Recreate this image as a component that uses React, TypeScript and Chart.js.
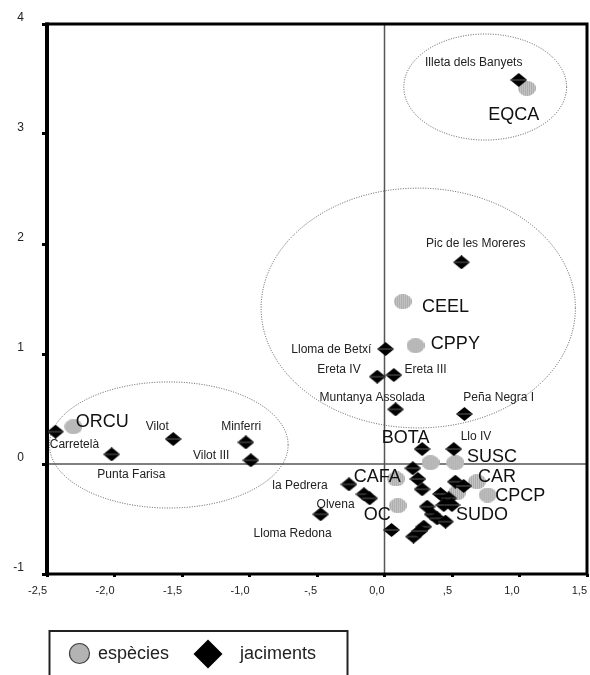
import React, { useEffect, useRef } from "react";
import { Chart, registerables } from "chart.js";

Chart.register(...registerables);

const FONT = '"Liberation Sans", Arial, Helvetica, sans-serif';

// Axis tick labels
const xTickLabels = ["-2,5", "-2,0", "-1,5", "-1,0", "-,5", "0,0", ",5", "1,0", "1,5"];
const yTickLabels = ["-1", "0", "1", "2", "3", "4"];

// Species (espècies) coordinates
const speciesNames = ["EQCA", "CEEL", "CPPY", "ORCU", "BOTA", "SUSC", "CAFA", "CAR", "CPCP", "OC", "SUDO"];
const speciesX = [1.055, 0.136, 0.23, -2.304, 0.341, 0.525, 0.086, 0.685, 0.764, 0.099, 0.537];
const speciesY = [3.415, 1.476, 1.076, 0.339, 0.012, 0.012, -0.136, -0.161, -0.282, -0.379, -0.262];

// Sites (jaciments) coordinates
const siteX = [
  0.994, 0.57, 0.008, -0.054, 0.069, 0.082, 0.592, 0.279, 0.513,
  -2.437, -2.021, -1.565, -1.027, -0.99,
  -0.263, -0.152, -0.11, -0.473, 0.052,
  0.21, 0.247, 0.279, 0.525, 0.587, 0.415, 0.476, 0.316, 0.439, 0.5,
  0.353, 0.39, 0.452, 0.291, 0.215, 0.26,
];
const siteY = [
  3.491, 1.834, 1.045, 0.794, 0.809, 0.497, 0.455, 0.136, 0.136,
  0.294, 0.088, 0.227, 0.197, 0.034,
  -0.185, -0.275, -0.312, -0.457, -0.6,
  -0.039, -0.136, -0.23, -0.161, -0.2, -0.273, -0.312, -0.388, -0.373, -0.373,
  -0.457, -0.494, -0.524, -0.57, -0.66, -0.61,
];

// Site name labels (text anchor in data coordinates)
const siteLabelText = [
  "Illeta dels Banyets", "Pic de les Moreres", "Lloma de Betxí", "Ereta IV", "Ereta III",
  "Muntanya Assolada", "Peña Negra I", "Llo IV", "Vilot", "Minferri", "Vilot III",
  "Carretelà", "Punta Farisa", "la Pedrera", "Olvena", "Lloma Redona",
];
const siteLabelX = [0.661, 0.676, -0.394, -0.337, 0.304, -0.091, 0.846, 0.678, -1.683, -1.062, -1.284, -2.297, -1.875, -0.626, -0.362, -0.681];
const siteLabelY = [3.652, 2.0, 1.036, 0.861, 0.861, 0.606, 0.606, 0.248, 0.339, 0.339, 0.073, 0.173, -0.1, -0.2, -0.366, -0.63];

// Species name labels (text anchor in data coordinates)
const speciesLabelX = [0.957, 0.452, 0.525, -2.09, 0.156, 0.796, -0.054, 0.833, 1.006, -0.054, 0.722];
const speciesLabelY = [3.173, 1.43, 1.088, 0.385, 0.234, 0.061, -0.121, -0.121, -0.288, -0.464, -0.464];

// Group ellipses (centre and radii in data units)
const groupCX = [0.746, 0.25, -1.598];
const groupCY = [3.427, 1.418, 0.173];
const groupRX = [0.603, 1.164, 0.884];
const groupRY = [0.482, 1.09, 0.573];

function makeSpeciesImage(): HTMLCanvasElement {
  const c = document.createElement("canvas");
  c.width = 18;
  c.height = 15;
  const g = c.getContext("2d")!;
  g.beginPath();
  g.ellipse(9, 7.5, 9, 7.5, 0, 0, Math.PI * 2);
  g.fillStyle = "#c4c4c4";
  g.fill();
  g.save();
  g.clip();
  g.strokeStyle = "#acacac";
  g.lineWidth = 1;
  for (let i = 1; i < 18; i += 2) {
    g.beginPath();
    g.moveTo(i + 0.5, 0);
    g.lineTo(i + 0.5, 15);
    g.stroke();
  }
  g.restore();
  return c;
}

function makeSiteImage(): HTMLCanvasElement {
  const c = document.createElement("canvas");
  c.width = 17;
  c.height = 14;
  const g = c.getContext("2d")!;
  g.beginPath();
  g.moveTo(8.5, 0);
  g.lineTo(17, 7);
  g.lineTo(8.5, 14);
  g.lineTo(0, 7);
  g.closePath();
  g.fillStyle = "#000";
  g.fill();
  g.strokeStyle = "#777";
  g.lineWidth = 0.8;
  g.beginPath();
  g.moveTo(1, 7);
  g.lineTo(16, 7);
  g.stroke();
  return c;
}

const overlayPlugin = {
  id: "overlay",
  beforeDatasetsDraw(chart: any) {
    const { ctx, chartArea: a, scales } = chart;
    const x = scales.x;
    const y = scales.y;
    ctx.save();
    // zero lines
    const x0 = x.getPixelForValue(0);
    const y0 = y.getPixelForValue(0);
    ctx.strokeStyle = "#555";
    ctx.lineWidth = 1.5;
    ctx.beginPath();
    ctx.moveTo(x0, a.top);
    ctx.lineTo(x0, a.bottom);
    ctx.moveTo(a.left, y0);
    ctx.lineTo(a.right, y0);
    ctx.stroke();
    // group ellipses
    ctx.setLineDash([1, 1.5]);
    ctx.strokeStyle = "#555";
    ctx.lineWidth = 1;
    for (let i = 0; i < groupCX.length; i++) {
      const cx = x.getPixelForValue(groupCX[i]);
      const cy = y.getPixelForValue(groupCY[i]);
      const rx = Math.abs(x.getPixelForValue(groupCX[i] + groupRX[i]) - cx);
      const ry = Math.abs(y.getPixelForValue(groupCY[i] + groupRY[i]) - cy);
      ctx.beginPath();
      ctx.ellipse(cx, cy, rx, ry, 0, 0, Math.PI * 2);
      ctx.stroke();
    }
    ctx.setLineDash([]);
    // frame
    ctx.strokeStyle = "#000";
    ctx.lineWidth = 3;
    ctx.strokeRect(a.left, a.top, a.right - a.left, a.bottom - a.top);
    ctx.lineWidth = 4;
    ctx.beginPath();
    ctx.moveTo(a.left, a.top - 1.5);
    ctx.lineTo(a.left, a.bottom + 1.5);
    ctx.stroke();
    ctx.restore();
  },
  afterDatasetsDraw(chart: any) {
    const { ctx, scales } = chart;
    const x = scales.x;
    const y = scales.y;
    ctx.save();
    ctx.textAlign = "center";
    ctx.textBaseline = "middle";
    ctx.fillStyle = "#222";
    ctx.font = `12px ${FONT}`;
    for (let i = 0; i < siteLabelText.length; i++) {
      ctx.fillText(siteLabelText[i], x.getPixelForValue(siteLabelX[i]), y.getPixelForValue(siteLabelY[i]));
    }
    ctx.fillStyle = "#111";
    ctx.font = `18px ${FONT}`;
    for (let i = 0; i < speciesNames.length; i++) {
      ctx.fillText(speciesNames[i], x.getPixelForValue(speciesLabelX[i]), y.getPixelForValue(speciesLabelY[i]));
    }
    ctx.restore();
  },
  afterDraw(chart: any) {
    const { ctx } = chart;
    ctx.save();
    // legend box
    ctx.strokeStyle = "#222";
    ctx.lineWidth = 2;
    ctx.strokeRect(49.5, 631, 298, 60);
    // species symbol
    ctx.beginPath();
    ctx.arc(79.5, 653.5, 10, 0, Math.PI * 2);
    ctx.fillStyle = "#b3b3b3";
    ctx.fill();
    ctx.strokeStyle = "#444";
    ctx.lineWidth = 1.2;
    ctx.stroke();
    // site symbol
    ctx.beginPath();
    ctx.moveTo(208, 639.5);
    ctx.lineTo(222.5, 654);
    ctx.lineTo(208, 668.5);
    ctx.lineTo(193.5, 654);
    ctx.closePath();
    ctx.fillStyle = "#000";
    ctx.fill();
    ctx.fillStyle = "#222";
    ctx.font = `18px ${FONT}`;
    ctx.textAlign = "left";
    ctx.textBaseline = "middle";
    ctx.fillText("espècies", 98, 654);
    ctx.fillText("jaciments", 240, 654);
    ctx.restore();
  },
};

export default function App() {
  const canvasRef = useRef<HTMLCanvasElement | null>(null);

  useEffect(() => {
    if (!canvasRef.current) return;
    const speciesImg = makeSpeciesImage();
    const siteImg = makeSiteImage();
    const chart = new Chart(canvasRef.current, {
      type: "scatter",
      data: {
        datasets: [
          {
            label: "jaciments",
            data: siteX.map((v, i) => ({ x: v, y: siteY[i] })),
            pointStyle: siteImg as any,
            pointRadius: 8,
            backgroundColor: "#000",
            borderColor: "#000",
          },
          {
            label: "espècies",
            data: speciesX.map((v, i) => ({ x: v, y: speciesY[i] })),
            pointStyle: speciesImg as any,
            pointRadius: 9,
            backgroundColor: "#c4c4c4",
            borderColor: "#c4c4c4",
          },
        ],
      },
      options: {
        animation: false,
        responsive: false,
        events: [],
        layout: { autoPadding: false, padding: { left: 0, top: 24, right: 3, bottom: 0 } },
        plugins: {
          legend: { display: false },
          tooltip: { enabled: false },
        },
        scales: {
          x: {
            type: "linear",
            min: -2.5,
            max: 1.5,
            ticks: {
              stepSize: 0.5,
              align: "end",
              padding: 7,
              color: "#222",
              font: { family: FONT, size: 11 },
              callback: (_v: any, i: number) => xTickLabels[i],
            },
            grid: { drawOnChartArea: false, drawTicks: true, tickLength: 3, color: "#000", lineWidth: 3 },
            border: { display: false },
            afterFit: (s: any) => {
              s.height = 101;
              s.paddingRight = 0;
              s.paddingLeft = 0;
            },
          },
          y: {
            type: "linear",
            min: -1,
            max: 4,
            ticks: {
              stepSize: 1,
              padding: 18,
              labelOffset: -6,
              color: "#222",
              font: { family: FONT, size: 12 },
              callback: (_v: any, i: number) => yTickLabels[i],
            },
            grid: { drawOnChartArea: false, drawTicks: true, tickLength: 5, color: "#000", lineWidth: 3 },
            border: { display: false },
            afterFit: (s: any) => {
              s.width = 47;
              s.paddingTop = 0;
              s.paddingBottom = 0;
            },
          },
        },
      },
      plugins: [overlayPlugin],
    });
    return () => chart.destroy();
  }, []);

  return (
    <div style={{ position: "absolute", left: 0, top: 0, width: 590, height: 675, background: "#fff" }}>
      <canvas ref={canvasRef} width={590} height={675} style={{ display: "block" }} />
    </div>
  );
}
